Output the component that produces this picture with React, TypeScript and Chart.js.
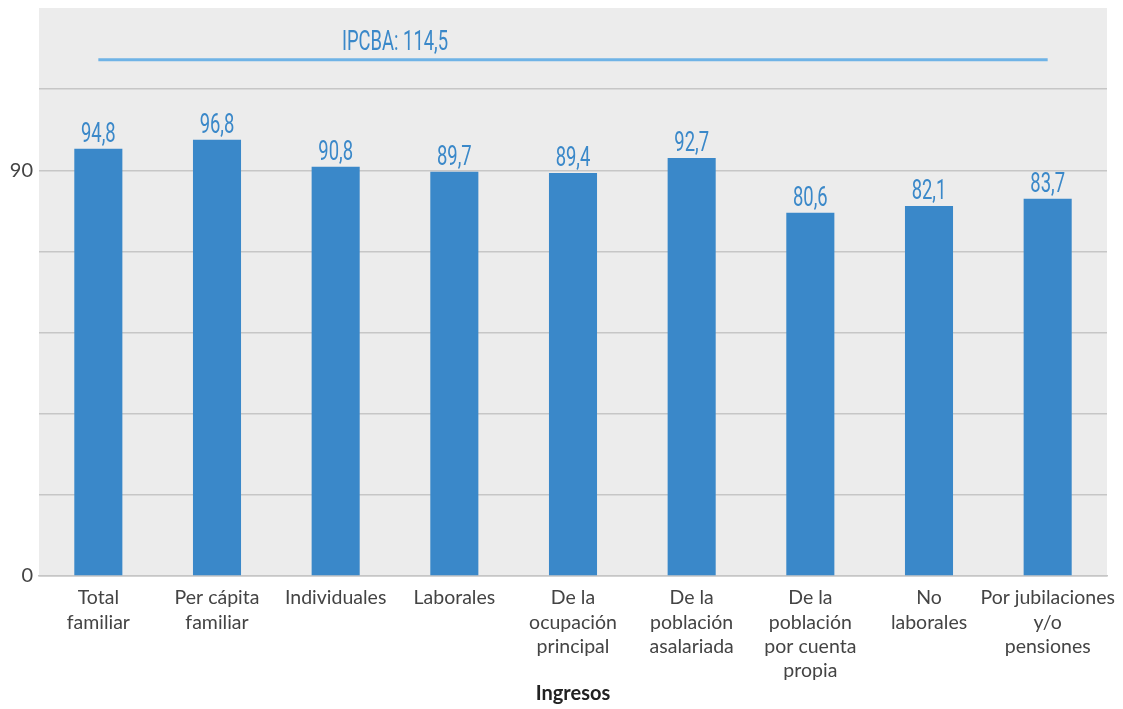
import { useEffect, useRef } from "react";
import { Chart, registerables } from "chart.js";

Chart.register(...registerables);

const categories: string[][] = [
  ["Total", "familiar"],
  ["Per cápita", "familiar"],
  ["Individuales"],
  ["Laborales"],
  ["De la", "ocupación", "principal"],
  ["De la", "población", "asalariada"],
  ["De la", "población", "por cuenta", "propia"],
  ["No", "laborales"],
  ["Por jubilaciones", "y/o", "pensiones"],
];
const values = [94.8, 96.8, 90.8, 89.7, 89.4, 92.7, 80.6, 82.1, 83.7];
const ipcbaLine = [114.5, 114.5, 114.5, 114.5, 114.5, 114.5, 114.5, 114.5, 114.5];
const ipcbaLabel = "IPCBA: 114,5";
const yTickLabels = [0, 90];
const axisTitle = "Ingresos";

const BAR_COLOR = "#3a88c9";
const LINE_COLOR = "#6fb3e6";
const TEXT_COLOR = "#444444";
const GRID_COLOR = "#c6c6c6";

const fmt = (v: number) => v.toFixed(1).replace(".", ",");

function drawCondensed(ctx: CanvasRenderingContext2D, text: string, x: number, y: number, size: number) {
  ctx.save();
  ctx.font = `${size}px Roboto`;
  ctx.fillStyle = BAR_COLOR;
  ctx.textAlign = "center";
  ctx.textBaseline = "alphabetic";
  ctx.translate(x, y);
  ctx.scale(0.67, 1);
  ctx.fillText(text, 0, 0);
  ctx.restore();
}

const bgPlugin = {
  id: "plotBg",
  beforeDraw(chart: any) {
    const { ctx, chartArea } = chart;
    ctx.save();
    ctx.fillStyle = "#ececec";
    ctx.fillRect(chartArea.left, chartArea.top, chartArea.right - chartArea.left, chartArea.bottom - chartArea.top);
    ctx.restore();
  },
};

const labelPlugin = {
  id: "valueLabels",
  afterDatasetsDraw(chart: any) {
    const { ctx, scales } = chart;
    const meta = chart.getDatasetMeta(0);
    meta.data.forEach((bar: any, i: number) => {
      drawCondensed(ctx, fmt(values[i]), bar.x, bar.y - 7, 27.5);
    });
    const xs = scales.x;
    const lx = (xs.getPixelForValue(2) + xs.getPixelForValue(3)) / 2;
    const ly = scales.y.getPixelForValue(ipcbaLine[0]) - 10;
    drawCondensed(ctx, ipcbaLabel, lx, ly, 27.5);
  },
};

export default function App() {
  const ref = useRef<HTMLCanvasElement | null>(null);
  useEffect(() => {
    document.body.style.margin = "0";
    const canvas = ref.current!;
    const chart = new Chart(canvas, {
      type: "bar",
      data: {
        labels: categories,
        datasets: [
          {
            type: "bar",
            data: values,
            backgroundColor: BAR_COLOR,
            barPercentage: 0.405,
            categoryPercentage: 1,
            order: 2,
          },
          {
            type: "line",
            data: ipcbaLine,
            borderColor: LINE_COLOR,
            borderWidth: 3,
            pointRadius: 0,
            fill: false,
            order: 1,
          } as any,
        ],
      },
      options: {
        animation: false,
        responsive: false,
        maintainAspectRatio: false,
        layout: { padding: { top: 8, right: 16, bottom: 0, left: 0 } },
        plugins: {
          legend: { display: false },
          tooltip: { enabled: false },
        },
        scales: {
          x: {
            grid: { display: false, drawTicks: false },
            border: { display: true, color: GRID_COLOR, width: 1.5 },
            ticks: {
              color: TEXT_COLOR,
              font: { family: "Lato", size: 19.5, lineHeight: 1.24 },
              padding: 10,
              maxRotation: 0,
              autoSkip: false,
            },
            title: {
              display: true,
              text: axisTitle,
              color: "#222222",
              font: { family: "Lato", size: 20, weight: "bold" },
              padding: { top: 4, bottom: 3 },
            },
            afterFit(scale: any) {
              scale.height = 133;
              scale.paddingLeft = 0;
              scale.paddingRight = 0;
            },
          },
          y: {
            min: 0,
            max: 126,
            grid: {
              drawTicks: false,
              color: (c: any) => (c.tick && c.tick.value >= 126 ? "rgba(0,0,0,0)" : GRID_COLOR),
              lineWidth: 1.5,
            },
            border: { display: false },
            ticks: {
              stepSize: 18,
              color: TEXT_COLOR,
              font: { family: "Lato", size: 20 },
              padding: 6,
              callback: (v: any) => (yTickLabels.includes(Number(v)) ? String(v) : ""),
            },
            afterFit(scale: any) {
              scale.width = 39;
              scale.paddingTop = 0;
              scale.paddingBottom = 0;
            },
          },
        },
      },
      plugins: [bgPlugin, labelPlugin],
    });
    return () => chart.destroy();
  }, []);
  return <canvas ref={ref} width={1123} height={709} style={{ display: "block" }} />;
}
